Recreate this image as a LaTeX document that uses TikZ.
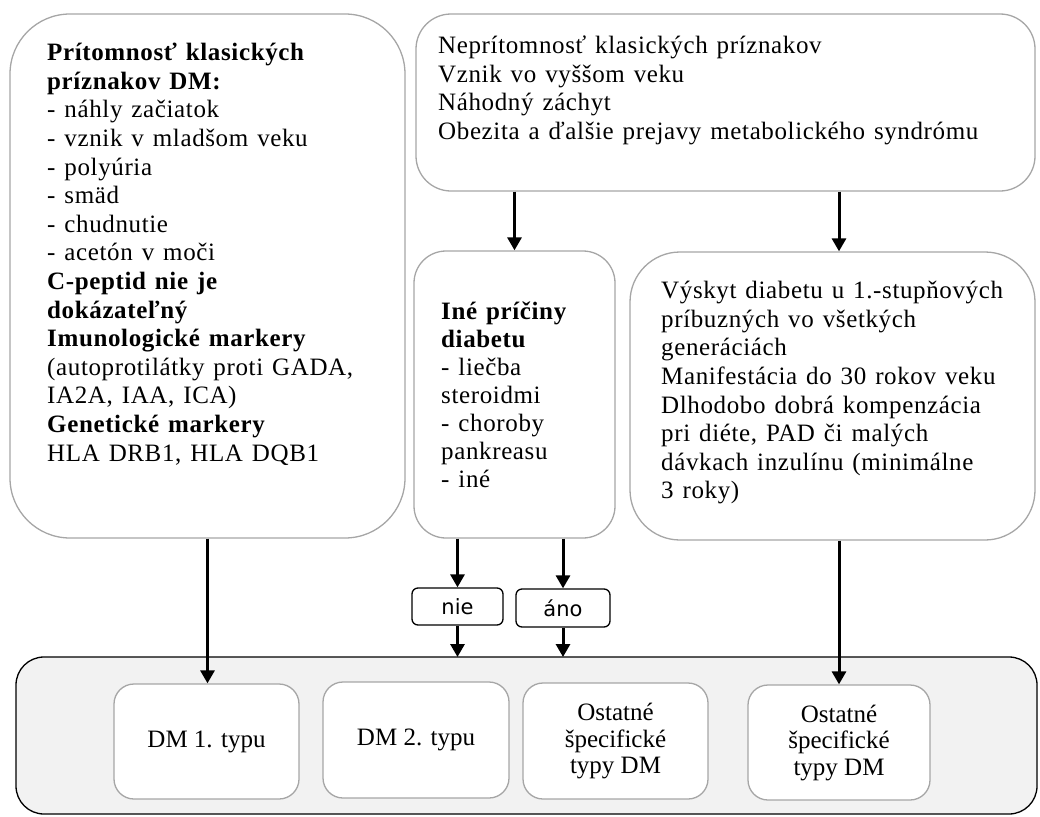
\documentclass[tikz,border=0pt]{standalone}
\usepackage{fontspec}
\setmainfont{Liberation Serif}
\newfontfamily\listfont[LetterSpace=2.5, WordSpace=1.3]{Liberation Serif}
\newfontfamily\answerfont{DejaVu Sans}
\usetikzlibrary{arrows.meta}
\definecolor{boxgray}{HTML}{A6A6A6}
\definecolor{panelgray}{HTML}{F2F2F2}

\begin{document}
\begin{tikzpicture}[x=1pt, y=-1pt,
		graybox/.style={draw=boxgray, line width=1.3pt, fill=white, inner sep=0pt},
		listtext/.style={inner sep=0pt, align=left, anchor=north west, execute at begin node={\rule{0pt}{24pt}}},
		typebox/.style={graybox, rounded corners=20pt, align=center, font=\fontsize{25}{26.5}\selectfont},
		answer/.style={draw, line width=1.3pt, rounded corners=6pt, inner sep=0pt, font=\answerfont\fontsize{21}{24}\selectfont},
		arr/.style={line width=3pt, -{Triangle[length=13pt, width=14pt]}}]
			%%%%% START %%%%%
			\useasboundingbox (0, 0) rectangle (1040, 816);
			
			\node[graybox, rounded corners=60pt, minimum width=395pt, minimum height=524pt] (lbox) at (207.5, 276) {};
			\node[graybox, rounded corners=35pt, minimum width=619pt, minimum height=177pt] (tbox) at (725.5, 102.5) {};
			\node[graybox, rounded corners=32pt, minimum width=201pt, minimum height=287pt] (mbox) at (514.5, 394.5) {};
			\node[graybox, rounded corners=50pt, minimum width=405pt, minimum height=288pt] (rbox) at (832.5, 396) {};
			
			% first baselines at y = 60, 53, 319, 298
			\node[listtext, font=\listfont\fontsize{25}{28.6}\selectfont] (ltext) at (47, 43) {%
				\textbf{Prítomnosť klasických}\\
				\textbf{príznakov DM:}\\
				- náhly začiatok\\
				- vznik v mladšom veku\\
				- polyúria\\
				- smäd\\
				- chudnutie\\
				- acetón v moči\\
				\textbf{C-peptid nie je}\\
				\textbf{dokázateľný}\\
				\textbf{Imunologické markery}\\
				(autoprotilátky proti GADA,\\
				IA2A, IAA, ICA)\\
				\textbf{Genetické markery}\\
				HLA DRB1, HLA DQB1};
			\node[listtext, font=\listfont\fontsize{25}{28.5}\selectfont] (ttext) at (438, 36) {%
				Neprítomnosť klasických príznakov\\
				Vznik vo vyššom veku\\
				Náhodný záchyt\\
				Obezita a ďalšie prejavy metabolického syndrómu};
			\node[listtext, font=\listfont\fontsize{25}{28}\selectfont] (mtext) at (441, 302) {%
				\textbf{Iné príčiny}\\
				\textbf{diabetu}\\
				- liečba\\
				steroidmi\\
				- choroby\\
				pankreasu\\
				- iné};
			\node[listtext, font=\listfont\fontsize{25}{28.6}\selectfont] (rtext) at (661, 281) {%
				Výskyt diabetu u 1.-stupňových\\
				príbuzných vo všetkých\\
				generáciách\\
				Manifestácia do 30 rokov veku\\
				Dlhodobo dobrá kompenzácia\\
				pri diéte, PAD či malých\\
				dávkach inzulínu (minimálne\\
				3 roky)};
			
			\draw[line width=1.3pt, rounded corners=28pt, fill=panelgray] (16, 657) rectangle (1037, 814);
			\coordinate (panel) at (526.5, 657);
			
			\node[typebox, minimum width=185pt, minimum height=115pt] (dm1) at (206.5, 741.5) {DM 1. typu};
			\node[typebox, minimum width=186pt, minimum height=116pt] (dm2) at (416, 740) {DM 2. typu};
			\node[typebox, minimum width=185pt, minimum height=116pt] (other1) at (615.5, 741) {Ostatné\\špecifické\\typy DM};
			\node[typebox, minimum width=182pt, minimum height=115pt] (other2) at (839, 742.5) {Ostatné\\špecifické\\typy DM};
			
			\node[answer, minimum width=91pt, minimum height=37pt] (no) at (457.5, 606.5) {nie};
			\node[answer, minimum width=94pt, minimum height=38pt] (yes) at (563, 608) {áno};
			
			\draw[arr] (tbox.south -| mbox.north) -- (mbox.north);
			\draw[arr] (tbox.south -| other2.north) -- (rbox.north -| other2.north);
			\draw[arr] (lbox.south) -- (lbox.south |- dm1.north);
			\draw[arr] (mbox.south -| no.north) -- (no.north);
			\draw[arr] (mbox.south -| yes.north) -- (yes.north);
			\draw[arr] (no.south) -- (no.south |- panel);
			\draw[arr] (yes.south) -- (yes.south |- panel);
			\draw[arr] (rbox.south -| other2.north) -- (other2.north);
			
			%%%%% END %%%%%
\end{tikzpicture}
\end{document}
